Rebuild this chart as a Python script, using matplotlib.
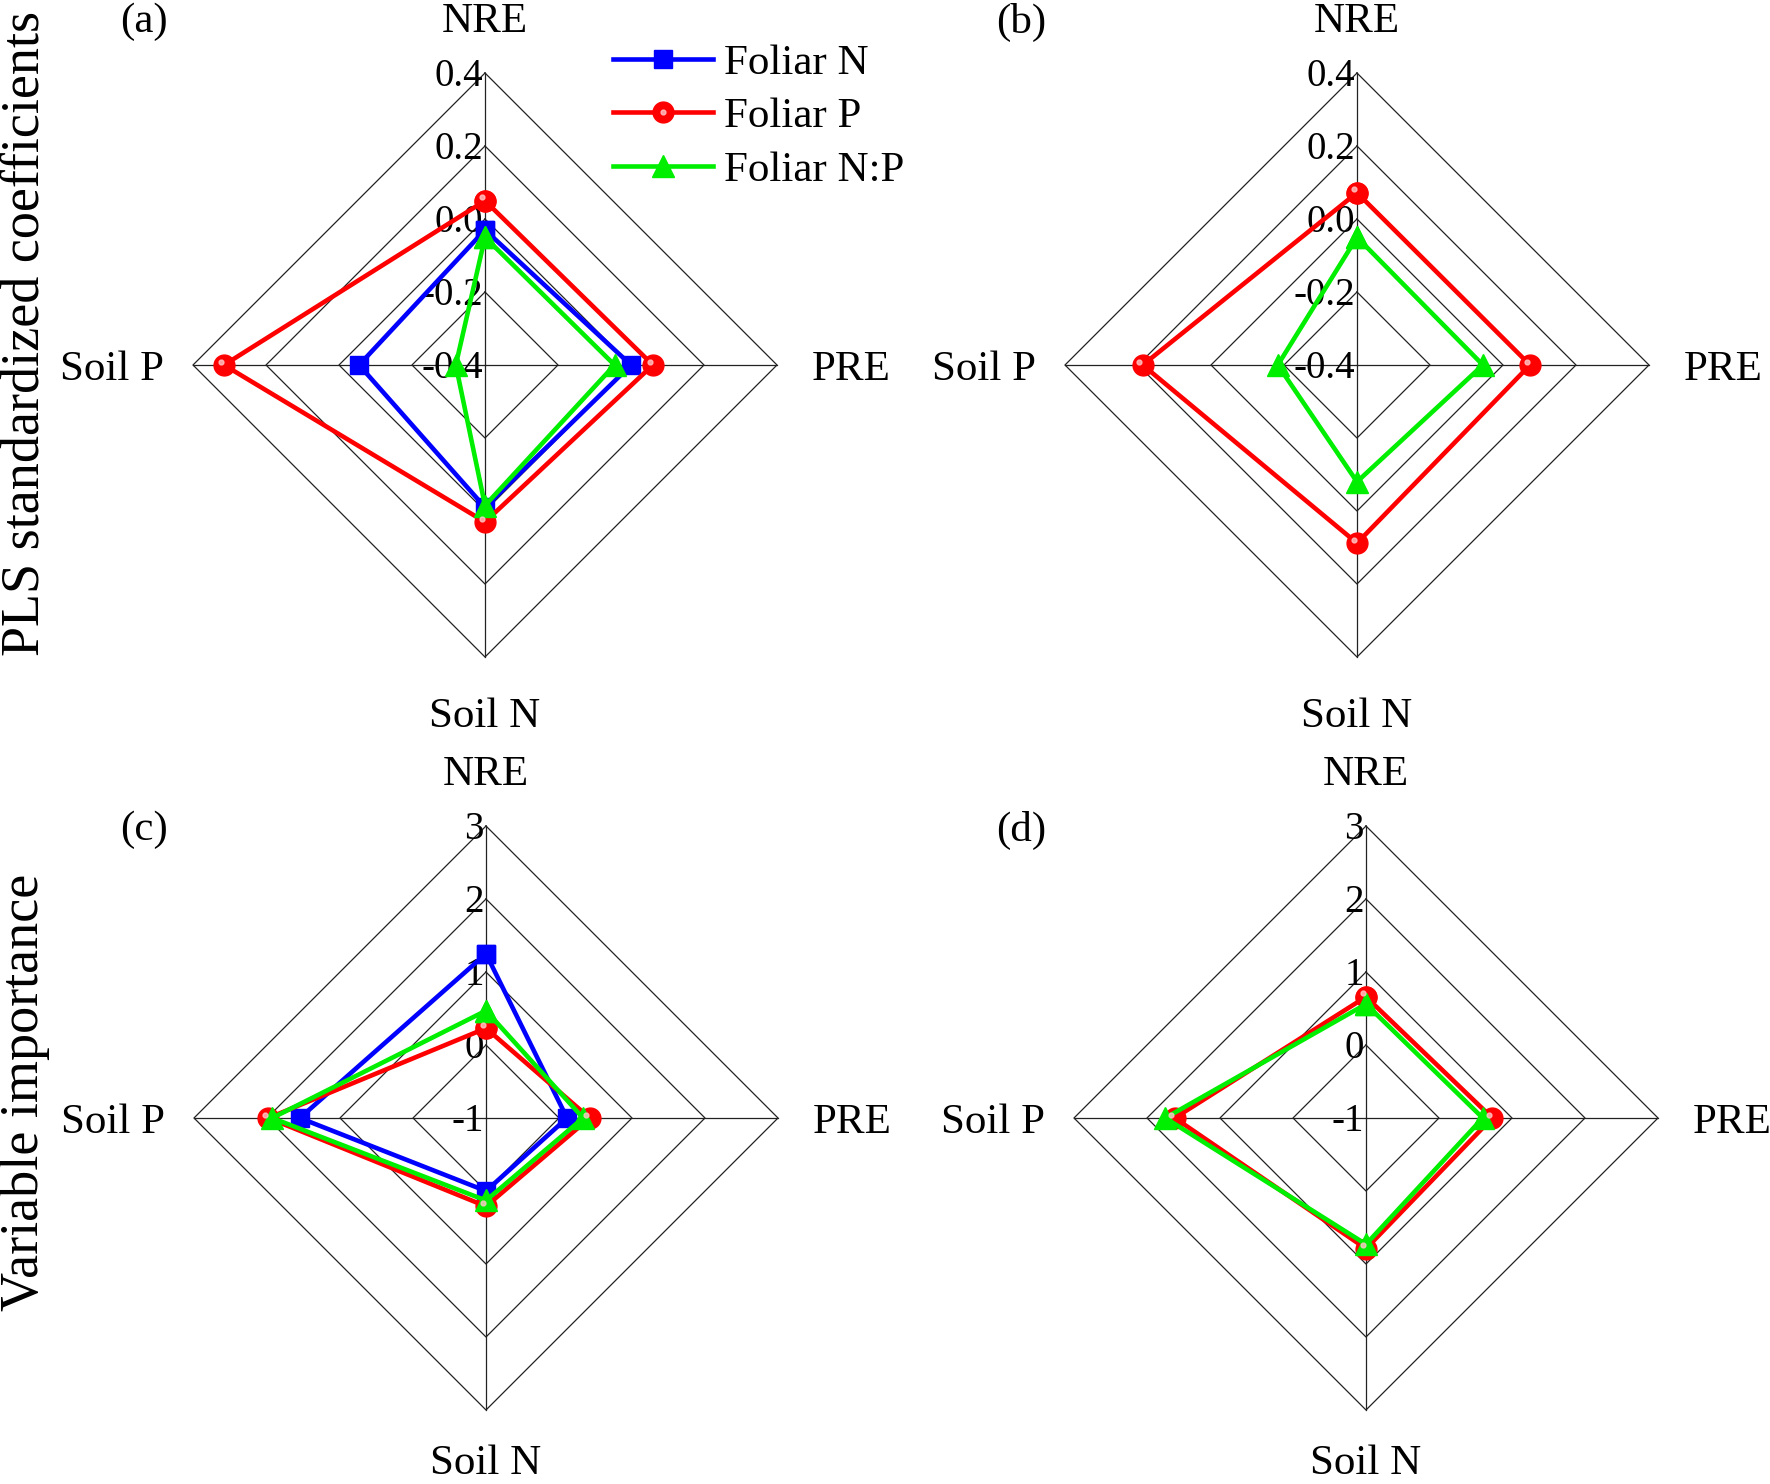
import numpy as np
import matplotlib
matplotlib.use("Agg")
import matplotlib.pyplot as plt
from matplotlib.transforms import offset_copy
from matplotlib.legend_handler import HandlerTuple

plt.rcParams['font.family'] = ['Liberation Serif', 'DejaVu Serif']

# spoke names, clockwise from the top
spokes = ['NRE', 'PRE', 'Soil N', 'Soil P']
spoke_deg = [90, 0, 270, 180]

ticks_pls = [-0.4, -0.2, 0.0, 0.2, 0.4]
ticklabels_pls = ['-0.4', '-0.2', '0.0', '0.2', '0.4']
ticks_vip = [-1, 0, 1, 2, 3]
ticklabels_vip = ['-1', '0', '1', '2', '3']

# values in spoke order: NRE, PRE, Soil N, Soil P
# (a) PLS standardized coefficients
a_foliar_n = [-0.03, 0.00, -0.01, -0.055]
a_foliar_p = [0.05, 0.06, 0.03, 0.315]
a_foliar_np = [-0.05, -0.045, -0.015, -0.32]
# (b)
b_foliar_p = [0.072, 0.074, 0.088, 0.187]
b_foliar_np = [-0.05, -0.055, -0.08, -0.183]
# (c) variable importance
c_foliar_n = [1.25, 0.11, 0.0, 1.55]
c_foliar_p = [0.23, 0.42, 0.21, 1.98]
c_foliar_np = [0.47, 0.33, 0.13, 1.93]
# (d)
d_foliar_p = [0.66, 0.73, 0.79, 1.62]
d_foliar_np = [0.56, 0.60, 0.73, 1.75]

FW, FH = 1770, 1484
PPU = 73.0  # pixels per ring

fig = plt.figure(figsize=(FW / 100, FH / 100), dpi=100)

styles = {
    'Foliar N': dict(color='#0000FF', marker='s', markersize=13),
    'Foliar P': dict(color='#FF0000', marker='o', markersize=15),
    'Foliar N:P': dict(color='#00EE00', marker='^', markersize=16),
}


def to_xy(vals, ticks):
    step = ticks[1] - ticks[0]
    r = (np.asarray(vals, dtype=float) - ticks[0]) / step
    th = np.deg2rad(spoke_deg)
    return r * np.cos(th), r * np.sin(th)


def panel(cx, cy, ticks, ticklabels, series, bottom_gap=0.96):
    W, H = 5.6, 5.0
    ax = fig.add_axes([(cx - W * PPU) / FW, 1 - (cy + H * PPU) / FH,
                       2 * W * PPU / FW, 2 * H * PPU / FH])
    ax.set_xlim(-W, W)
    ax.set_ylim(-H, H)
    ax.axis('off')
    nring = len(ticks) - 1
    th = np.deg2rad(spoke_deg + [spoke_deg[0]])
    for k in range(1, nring + 1):
        ax.plot(k * np.cos(th), k * np.sin(th), color='#222222', lw=0.9, zorder=1)
    for d in spoke_deg:
        t = np.deg2rad(d)
        ax.plot([0, nring * np.cos(t)], [0, nring * np.sin(t)],
                color='#222222', lw=0.9, zorder=1)
    for k, lab in enumerate(ticklabels):
        ax.text(-0.03, k - 0.18, lab, ha='right', va='baseline', fontsize=28, zorder=2)
    ax.text(0, nring + 0.56, spokes[0], ha='center', va='baseline', fontsize=31)
    ax.text(nring + 0.48, -0.2, spokes[1], ha='left', va='baseline', fontsize=31)
    ax.text(0, -nring - bottom_gap, spokes[2], ha='center', va='baseline', fontsize=31)
    ax.text(-nring - 0.4, -0.2, spokes[3], ha='right', va='baseline', fontsize=31)

    handles = {}
    hl_tr = offset_copy(ax.transData, fig=fig, x=-2.4, y=2.4, units='points')
    for name, vals in series:
        x, y = to_xy(vals, ticks)
        st = styles[name]
        ln, = ax.plot(np.append(x, x[0]), np.append(y, y[0]), color=st['color'], lw=3.3,
                      marker=st['marker'], markersize=st['markersize'],
                      markerfacecolor=st['color'], markeredgecolor=st['color'],
                      zorder=3, clip_on=False)
        handles[name] = ln
        if name == 'Foliar P':
            hl, = ax.plot(x, y, ls='none', marker='o', markersize=3.5, color='#FFC8C8',
                          alpha=0.8, transform=hl_tr, zorder=3.5, clip_on=False)
            handles['hl'] = hl
    return ax, handles


ax_a, h = panel(485, 365, ticks_pls, ticklabels_pls,
                [('Foliar N', a_foliar_n), ('Foliar P', a_foliar_p), ('Foliar N:P', a_foliar_np)])
panel(1357, 365, ticks_pls, ticklabels_pls,
      [('Foliar P', b_foliar_p), ('Foliar N:P', b_foliar_np)])
panel(486, 1118, ticks_vip, ticklabels_vip,
      [('Foliar N', c_foliar_n), ('Foliar P', c_foliar_p), ('Foliar N:P', c_foliar_np)],
      bottom_gap=0.87)
panel(1366, 1118, ticks_vip, ticklabels_vip,
      [('Foliar P', d_foliar_p), ('Foliar N:P', d_foliar_np)], bottom_gap=0.87)

fig.legend([h['Foliar N'], (h['Foliar P'], h['hl']), h['Foliar N:P']],
           ['Foliar N', 'Foliar P', 'Foliar N:P'],
           handler_map={tuple: HandlerTuple(ndivide=1, pad=0)},
           loc='upper left', bbox_to_anchor=(613 / FW, 1 - 44 / FH),
           frameon=False, fontsize=31, handlelength=2.33, handletextpad=0.25,
           labelspacing=0.33, borderpad=0, borderaxespad=0)

for lab, px, py in [('(a)', 144, 22), ('(b)', 1021, 22), ('(c)', 144, 830), ('(d)', 1021, 830)]:
    fig.text(px / FW, 1 - py / FH, lab, ha='center', va='center', fontsize=31)

fig.text(25 / FW, 1 - 333 / FH, 'PLS standardized coefficients', rotation=90,
         ha='center', va='center', fontsize=39)
fig.text(25 / FW, 1 - 1092 / FH, 'Variable importance', rotation=90,
         ha='center', va='center', fontsize=39)

fig.savefig('out.png', dpi=100)
